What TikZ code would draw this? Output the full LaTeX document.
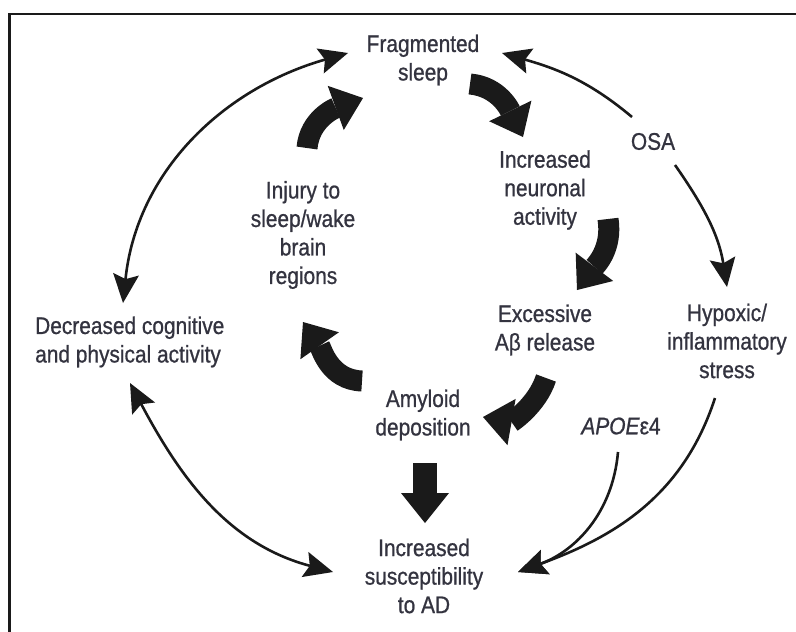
\documentclass[tikz,border=0pt]{standalone}
\usepackage{fontspec}
\setmainfont{Liberation Sans}[FakeStretch=0.87,FakeBold=0.8]
\usetikzlibrary{arrows.meta}
\definecolor{txt}{HTML}{33333F}
\definecolor{ink}{HTML}{1A1A1A}
\newcommand{\lblfont}{\fontsize{24}{28.5}\selectfont}
\begin{document}
\begin{tikzpicture}[x=1pt,y=1pt,
  lbl/.style={font=\lblfont, text=txt, align=center, inner sep=0pt},
  thinarrow/.style={line width=2.6pt, draw=ink, -{Stealth[length=29pt,width=26pt,inset=5pt,line width=0pt]}},
  thinboth/.style={line width=2.6pt, draw=ink, {Stealth[length=29pt,width=26pt,inset=5pt,line width=0pt]}-{Stealth[length=29pt,width=26pt,inset=5pt,line width=0pt]}},
  blockarrow/.style={line width=21pt, draw=ink, -{Triangle[length=29pt,width=47pt,line width=0pt]}},
  framestyle/.style={line width=2.8pt, draw=ink}
]
\useasboundingbox (0,0) rectangle (796,-632);
\fill[white] (0,0) rectangle (796,-632);
\draw[framestyle] (9.6,-632) -- (9.6,-14) -- (796,-14);

% text nodes
\node[lbl] (frag) at (423,-60) {Fragmented\\sleep};
\node[lbl] (neur) at (545,-190) {Increased\\neuronal\\activity};
\node[lbl] (inj) at (303,-235) {Injury to\\sleep/wake\\brain\\regions};
\node[lbl] (osa) at (653,-141.5) {OSA};
\node[lbl] (abeta) at (545,-330) {Excessive\\Aβ release};
\node[lbl] (hyp) at (727,-341) {Hypoxic/\\inflammatory\\stress};
\node[lbl, anchor=west, align=left] (dec) at (35,-342) {Decreased cognitive\\and physical activity};
\node[lbl] (amy) at (423,-415) {Amyloid\\deposition};
\node[lbl] (sus) at (424,-576) {Increased\\susceptibility\\to AD};
\node[lbl] (apoe) at (621,-426) {\textit{APOE}ε4};

% connector end points
\coordinate (fragL) at (348,-53);
\coordinate (fragR) at (502,-53);
\coordinate (decT) at (123,-303);
\coordinate (decB) at (130,-383);
\coordinate (osaNW) at (632,-117);
\coordinate (osaS) at (675,-165);
\coordinate (hypN) at (727,-287);
\coordinate (hypS) at (715,-398);
\coordinate (apoeS) at (618,-452);
\coordinate (susR) at (518,-572);
\coordinate (susL) at (333,-572);

% thin arrows
\draw[thinboth] (decT) to[out=84,in=196] (fragL);
\draw[thinarrow] (osaNW) to[out=140,in=-16] (fragR);
\draw[thinarrow] (osaS) to[out=-55,in=99] (hypN);
\draw[thinboth] (decB) to[out=-62,in=165] (susL);
\draw[thinarrow] (apoeS) to[out=-95,in=20] (susR);
\draw[thinarrow] (hypS) to[out=-108,in=20] (susR);

% block arrows of the cycle
\coordinate (b1s) at (470,-84);  \coordinate (b1e) at (523,-137);
\coordinate (b2s) at (608,-219); \coordinate (b2e) at (577,-290);
\coordinate (b3s) at (546,-378); \coordinate (b3e) at (483,-417);
\coordinate (b4s) at (362,-381); \coordinate (b4e) at (303,-322);
\coordinate (b5s) at (307,-148); \coordinate (b5e) at (363,-98);
\coordinate (b6s) at (425,-463); \coordinate (b6e) at (425,-523);
\draw[blockarrow] (b1s) to[out=-5,in=116] (b1e);
\draw[blockarrow] (b2s) to[out=-81,in=53] (b2e);
\draw[blockarrow] (b3s) to[out=-108,in=-10] (b3e);
\draw[blockarrow] (b4s) to[out=178,in=-55] (b4e);
\draw[blockarrow] (b5s) to[out=85,in=200] (b5e);
\draw[line width=24pt, draw=ink, -{Triangle[length=30pt,width=48pt,line width=0pt]}] (b6s) -- (b6e);
\end{tikzpicture}
\end{document}
